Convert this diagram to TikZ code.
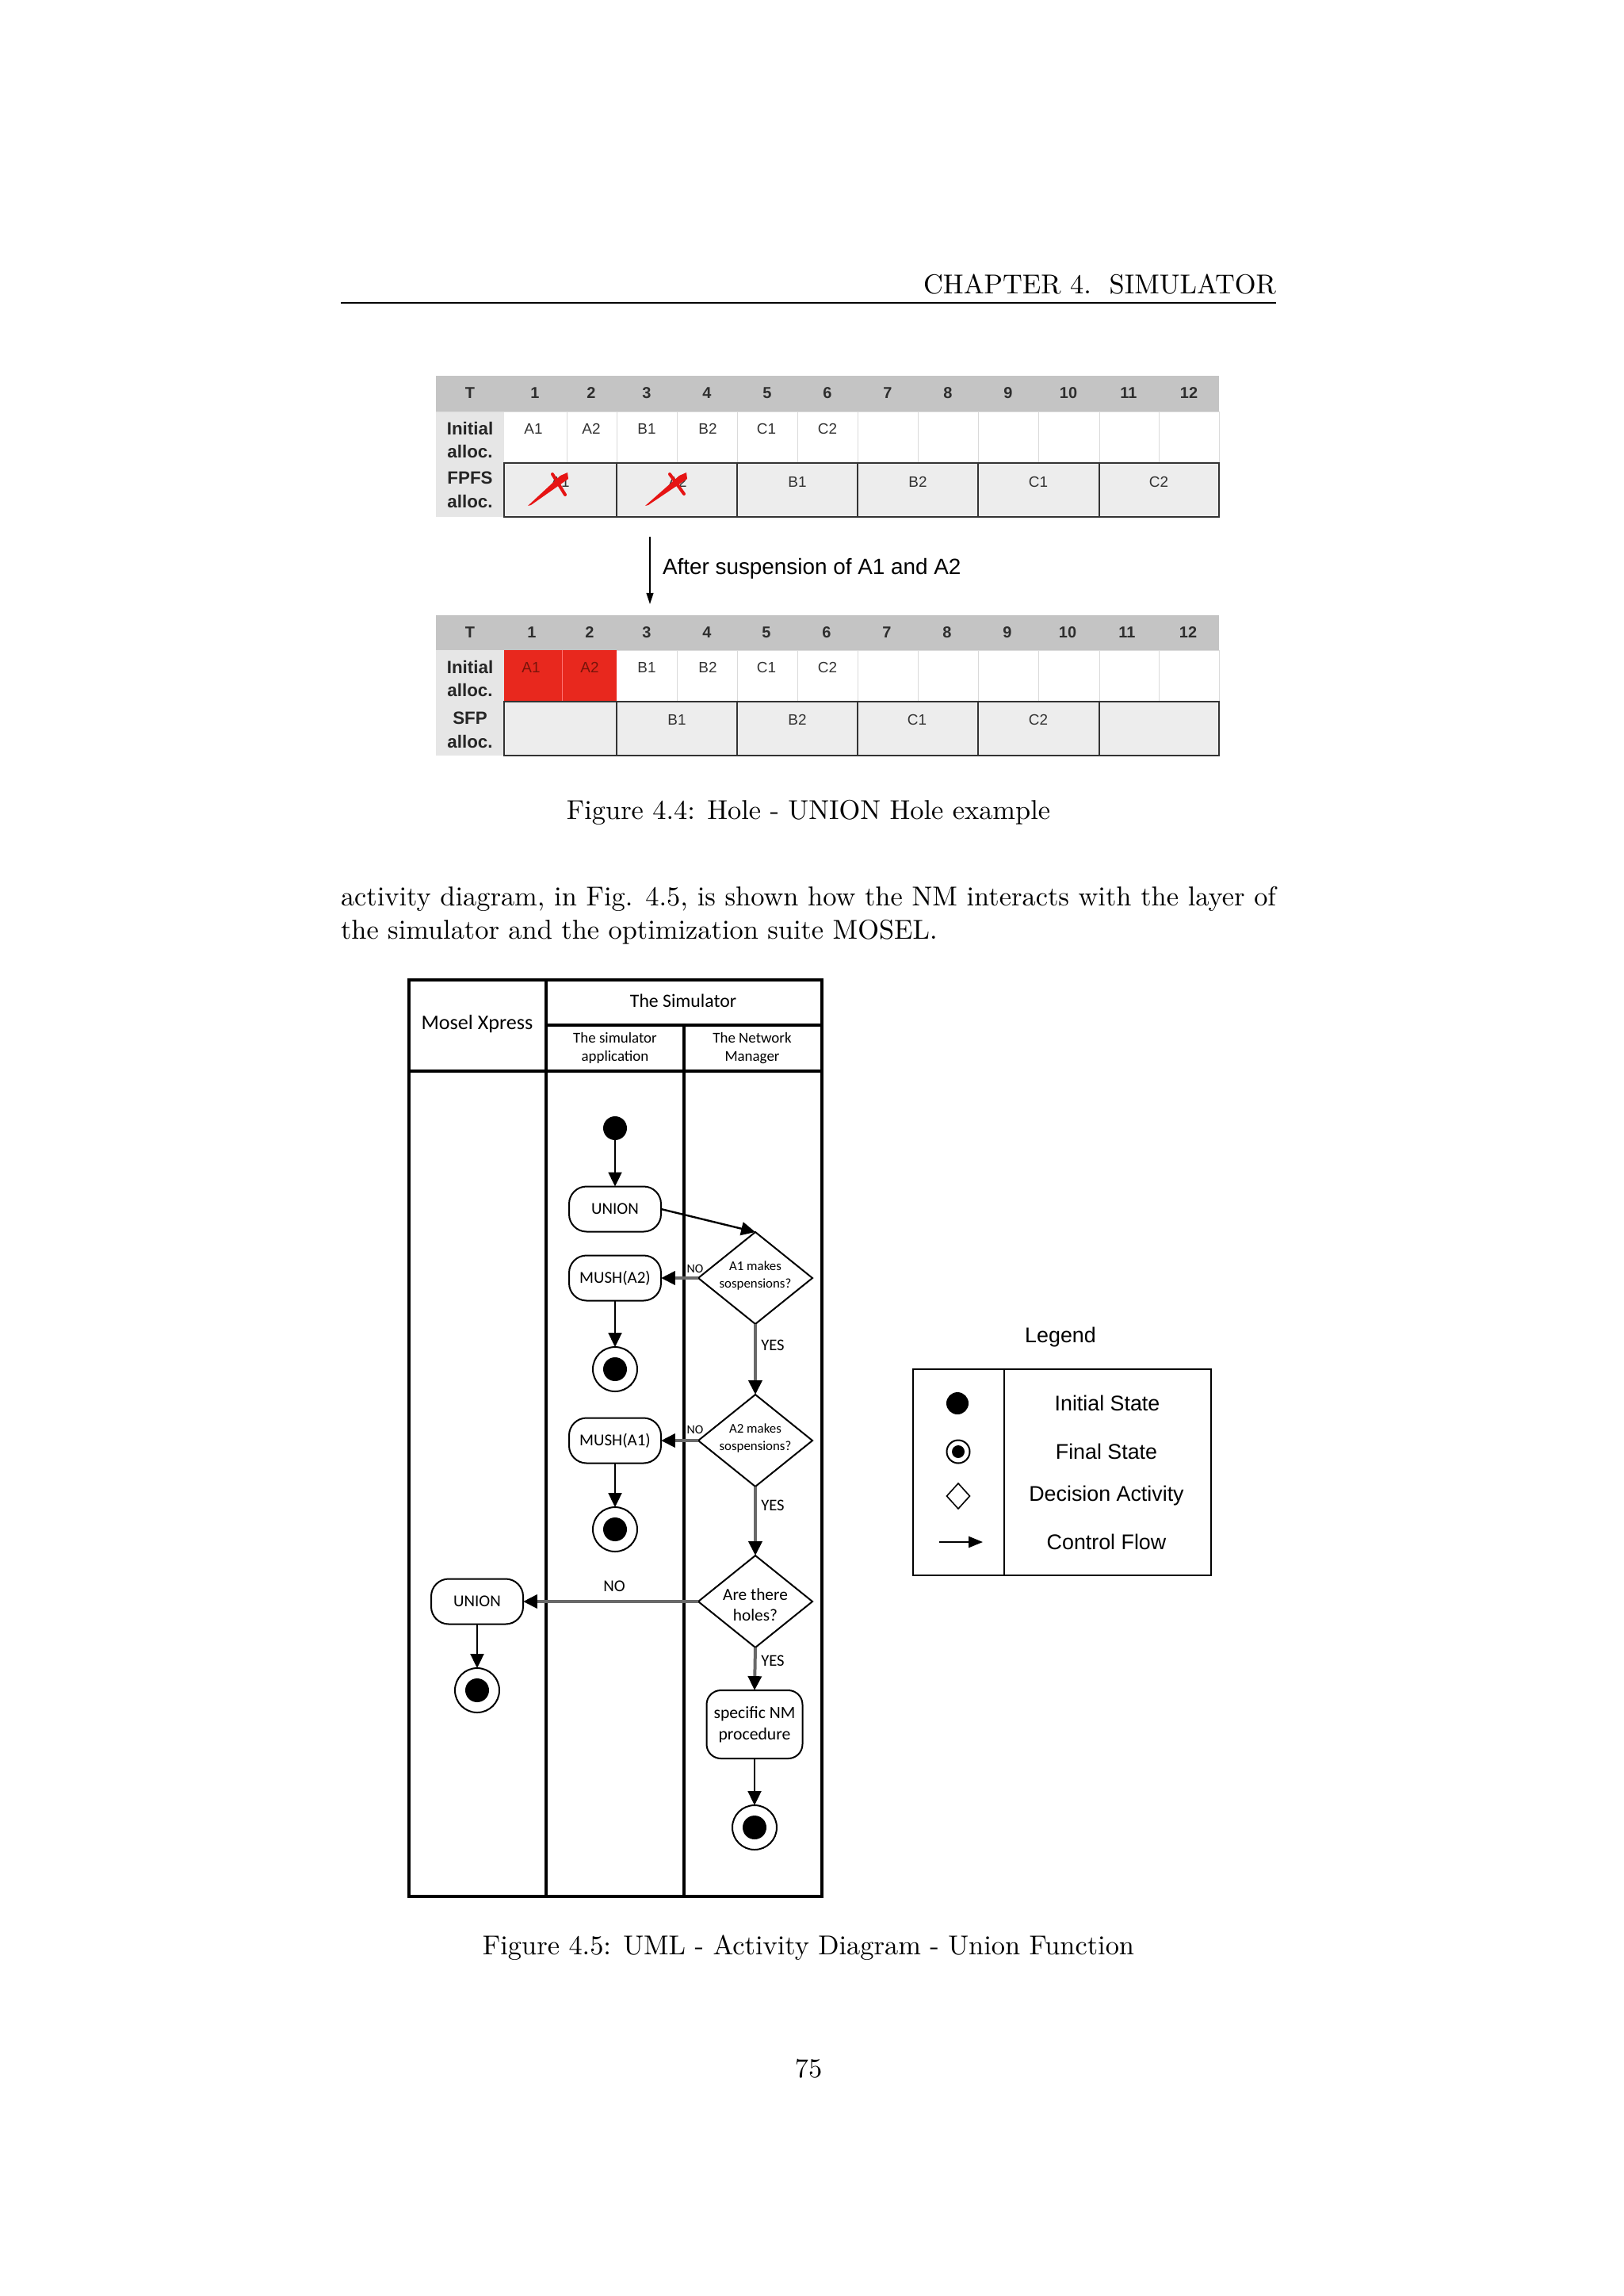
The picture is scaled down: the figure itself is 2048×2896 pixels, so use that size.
\documentclass[tikz,border=0pt]{standalone}
\usepackage{fontspec}
\newfontfamily\arialf{Liberation Sans}
\newfontfamily\calf{Carlito}
\usetikzlibrary{arrows.meta,shapes.geometric,calc}
\newlength\pu
\setlength\pu{0.29066pt}
\definecolor{hdrgray}{RGB}{196,196,196}
\definecolor{lblgray}{RGB}{230,230,230}
\definecolor{rowgray}{RGB}{237,237,237}
\definecolor{cellline}{RGB}{218,218,218}
\definecolor{redcell}{RGB}{232,40,30}
\definecolor{redtxt}{RGB}{120,20,10}
\definecolor{markred}{RGB}{230,20,20}
\definecolor{flowgray}{RGB}{105,105,105}
\begin{document}
\begin{tikzpicture}[x=\pu,y=-\pu,
  every node/.style={inner sep=0pt, outer sep=0pt},
  hdrtxt/.style={font=\arialf\bfseries\fontsize{5.8}{7}\selectfont, text=black!82},
  lbltxt/.style={font=\arialf\bfseries\fontsize{6.5}{8.7}\selectfont, align=center, text=black!85},
  celltxt/.style={font=\arialf\fontsize{5.5}{7}\selectfont, text=black!80},
  boxline/.style={draw=black!80, line width=2.5\pu},
  thinline/.style={draw=cellline, line width=1\pu},
  frame/.style={line width=3.2\pu},
  act/.style={draw, line width=2\pu, rounded corners=22\pu, minimum width=116\pu, minimum height=57\pu, font=\calf\fontsize{6.1}{7.4}\selectfont, align=center},
  dec/.style={diamond, draw, line width=2\pu, minimum width=144\pu, minimum height=116\pu},
  dtxt/.style={font=\calf\fontsize{4.9}{6.4}\selectfont, align=center},
  initst/.style={circle, fill=black, minimum size=30\pu},
  finst/.style={circle, draw, line width=2\pu, minimum size=56\pu,
     path picture={\fill[black] (path picture bounding box.center) circle (15\pu);}},
  flow/.style={line width=2.4\pu, -{Triangle[length=5.2pt,width=4.9pt]}},
  gflow/.style={draw=flowgray, line width=4\pu, -{Triangle[length=5.2pt,width=4.9pt,color=black]}},
  smallno/.style={font=\calf\fontsize{4.6}{5.5}\selectfont},
  yeslbl/.style={font=\calf\fontsize{6}{7}\selectfont},
  legf/.style={font=\arialf\fontsize{7.8}{9.4}\selectfont}
]
\useasboundingbox (0,0) rectangle (2048,2896);
\fill[white] (0,0) rectangle (2048,2896);

% ---------- running header ----------
\node[anchor=base east, font=\fontsize{10}{12}\selectfont] (hdr) at (1610,370) {CHAPTER 4.\ \ SIMULATOR};
\draw[line width=0.4pt] (430,382) -- (1610,382);

% ---------- Table 1 ----------
\fill[hdrgray] (550,474) rectangle (1538,519);
\fill[lblgray] (550,519) rectangle (636,652);
\fill[rowgray] (636,584) rectangle (1538,652);
\draw[thinline] (550,519) -- (1538,519);
\foreach \x in {715,778,854,930,1006,1082,1158,1234,1310,1387,1462,1538}
  \draw[thinline] (\x,519) -- (\x,584);
\draw[boxline] (636,584) rectangle (1538,652);
\foreach \x in {778,930,1082,1234,1387}
  \draw[boxline] (\x,584) -- (\x,652);
\node[hdrtxt] (taT) at (593,496) {T};
\foreach \c/\n in {675/1,746/2,816/3,892/4,968/5,1044/6,1120/7,1196/8,1272/9,1348/10,1424/11,1500/12}
  \node[hdrtxt] (tah\n) at (\c,496) {\n};
\node[lbltxt] (taL2) at (593,555) {Initial\\alloc.};
\node[lbltxt] (taL3) at (593,618) {FPFS\\alloc.};
\foreach \c/\t/\k in {673/A1/1,746/A2/2,816/B1/3,893/B2/4,967/C1/5,1044/C2/6}
  \node[celltxt] (tar\k) at (\c,541) {\t};
\node[celltxt] (tas1) at (707,608) {A1};
\node[celltxt] (tas2) at (855,608) {A2};
\node[celltxt] (tas3) at (1006,608) {B1};
\node[celltxt] (tas4) at (1158,608) {B2};
\node[celltxt] (tas5) at (1310,608) {C1};
\node[celltxt] (tas6) at (1462,608) {C2};
% red crossing marks
\fill[markred] (666,638) -- (707,600) -- (716,596) -- (717,604) -- (670,637) -- cycle;
\draw[markred, line width=4\pu, line cap=round] (697,598) -- (713,624);
\fill[markred] (814,638) -- (857,600) -- (866,596) -- (867,604) -- (818,637) -- cycle;
\draw[markred, line width=4\pu, line cap=round] (845,598) -- (863,623);

% ---------- arrow between tables ----------
\coordinate (arrS) at (820,677);
\coordinate (arrE) at (820,762);
\draw[line width=1.4\pu, -{Triangle[length=4.1pt,width=2.6pt]}] (arrS) -- (arrE);
\node[anchor=west, font=\arialf\fontsize{8.1}{9.5}\selectfont] (afterlbl) at (836,717) {After suspension of A1 and A2};

% ---------- Table 2 ----------
\fill[hdrgray] (550,776) rectangle (1538,820);
\fill[lblgray] (550,820) rectangle (636,953);
\fill[rowgray] (636,885) rectangle (1538,953);
\fill[redcell] (636,820) rectangle (778,885);
\draw[thinline] (778,820) -- (1538,820);
\foreach \x in {854,930,1006,1082,1158,1234,1310,1387,1462,1538}
  \draw[thinline] (\x,820) -- (\x,885);
\draw[red!55!white, line width=1\pu] (709,820) -- (709,885);
\draw[boxline] (636,885) rectangle (1538,953);
\foreach \x in {778,930,1082,1234,1387}
  \draw[boxline] (\x,885) -- (\x,953);
\node[hdrtxt] (tbT) at (593,798) {T};
\foreach \c/\n in {671/1,744/2,816/3,892/4,967/5,1043/6,1119/7,1195/8,1271/9,1347/10,1422/11,1499/12}
  \node[hdrtxt] (tbh\n) at (\c,798) {\n};
\node[lbltxt] (tbL2) at (593,856) {Initial\\alloc.};
\node[lbltxt] (tbL3) at (593,921) {SFP\\alloc.};
\node[celltxt, text=redtxt] (tbr1) at (670,842) {A1};
\node[celltxt, text=redtxt] (tbr2) at (744,842) {A2};
\foreach \c/\t/\k in {816/B1/3,893/B2/4,967/C1/5,1044/C2/6}
  \node[celltxt] (tbr\k) at (\c,842) {\t};
\node[celltxt] (tbs3) at (854,908) {B1};
\node[celltxt] (tbs4) at (1006,908) {B2};
\node[celltxt] (tbs5) at (1157,908) {C1};
\node[celltxt] (tbs6) at (1310,908) {C2};

% ---------- caption + body ----------
\node[anchor=base, font=\fontsize{10}{12}\selectfont] (cap1) at (1020,1033) {Figure 4.4: Hole - UNION Hole example};
\node[anchor=base west, font=\fontsize{10}{12}\selectfont] (body1) at (430,1142)
  {\makebox[1180\pu][s]{activity diagram, in Fig. 4.5, is shown how the NM interacts with the layer of}};
\node[anchor=base west, font=\fontsize{10}{12}\selectfont] (body2) at (430,1184)
  {the simulator and the optimization suite MOSEL.};

% ---------- activity diagram: swimlanes ----------
\draw[frame] (516,1236) rectangle (1037,2392);
\draw[frame] (689,1236) -- (689,2392);
\draw[frame] (863,1293) -- (863,2392);
\draw[frame] (689,1293) -- (1037,1293);
\draw[frame] (516,1351) -- (1037,1351);
\node[font=\calf\fontsize{7.6}{9}\selectfont] (laneM) at (602,1292) {Mosel Xpress};
\node[font=\calf\fontsize{6.9}{8}\selectfont] (laneS) at (862,1262) {The Simulator};
\node[font=\calf\fontsize{5.5}{6.7}\selectfont, align=center] (laneA) at (776,1322) {The simulator\\application};
\node[font=\calf\fontsize{5.5}{6.7}\selectfont, align=center] (laneN) at (949,1322) {The Network\\Manager};

% ---------- activity diagram: nodes ----------
\node[initst] (init) at (776,1423) {};
\node[act] (u1) at (776,1525) {UNION};
\node[dec] (d1) at (953,1612) {};
\node[dtxt] (d1t) at (953,1609) {A1 makes\\sospensions?};
\node[act] (m2) at (776,1612) {MUSH(A2)};
\node[finst] (f1) at (776,1727) {};
\node[dec] (d2) at (953,1817) {};
\node[dtxt] (d2t) at (953,1814) {A2 makes\\sospensions?};
\node[act] (m1) at (776,1817) {MUSH(A1)};
\node[finst] (f2) at (776,1929) {};
\node[dec] (d3) at (953,2020) {};
\node[font=\calf\fontsize{6.2}{7.6}\selectfont, align=center] (d3t) at (953,2024) {Are there\\holes?};
\node[act] (u2) at (602,2020) {UNION};
\node[finst] (f3) at (602,2132) {};
\node[act, minimum width=121\pu, minimum height=86\pu, rounded corners=18\pu, font=\calf\fontsize{6.3}{7.8}\selectfont] (proc) at (952,2175) {specific NM\\procedure};
\node[finst] (f4) at (952,2305) {};

% ---------- activity diagram: connectors ----------
\draw[flow] (init) -- (u1);
\draw[flow] (u1.east) -- (d1.north);
\draw[gflow] (d1.west) -- (m2.east);
\draw[flow] (m2) -- (f1);
\draw[gflow] (d1.south) -- (d2.north);
\draw[gflow] (d2.west) -- (m1.east);
\draw[flow] (m1) -- (f2);
\draw[gflow] (d2.south) -- (d3.north);
\draw[gflow] (d3.west) -- (u2.east);
\draw[flow] (u2) -- (f3);
\draw[gflow] (d3.south) -- (proc.north);
\draw[flow] (proc) -- (f4);
\node[smallno] (no1) at (877,1600) {NO};
\node[smallno] (no2) at (877,1803) {NO};
\node[font=\calf\fontsize{6.1}{7}\selectfont] (no3) at (775,2001) {NO};
\node[yeslbl] (yes1) at (975,1697) {YES};
\node[yeslbl] (yes2) at (975,1899) {YES};
\node[yeslbl] (yes3) at (975,2095) {YES};

% ---------- legend ----------
\node[legf] (legtitle) at (1338,1687) {Legend};
\draw[line width=2\pu] (1152,1727) rectangle (1528,1987);
\draw[line width=2\pu] (1267,1727) -- (1267,1987);
\node[circle, fill=black, minimum size=28\pu] (lgi) at (1208,1770) {};
\node[circle, draw, line width=2\pu, minimum size=29\pu,
  path picture={\fill[black] (path picture bounding box.center) circle (8\pu);}] (lgf) at (1209,1831) {};
\node[diamond, draw, line width=1.6\pu, minimum width=29\pu, minimum height=32\pu] (lgd) at (1209,1887) {};
\coordinate (lga) at (1185,1945);
\coordinate (lgb) at (1240,1945);
\draw[line width=2\pu, -{Triangle[length=5.2pt,width=4.1pt]}] (lga) -- (lgb);
\node[legf] (lgt1) at (1397,1770) {Initial State};
\node[legf] (lgt2) at (1396,1831) {Final State};
\node[legf] (lgt3) at (1396,1887) {Decision Activity};
\node[legf] (lgt4) at (1396,1945) {Control Flow};

% ---------- caption + page number ----------
\node[anchor=base, font=\fontsize{10}{12}\selectfont] (cap2) at (1020,2465) {Figure 4.5: UML - Activity Diagram - Union Function};
\node[anchor=base, font=\fontsize{10}{12}\selectfont] (pnum) at (1020,2620) {75};
\end{tikzpicture}
\end{document}
